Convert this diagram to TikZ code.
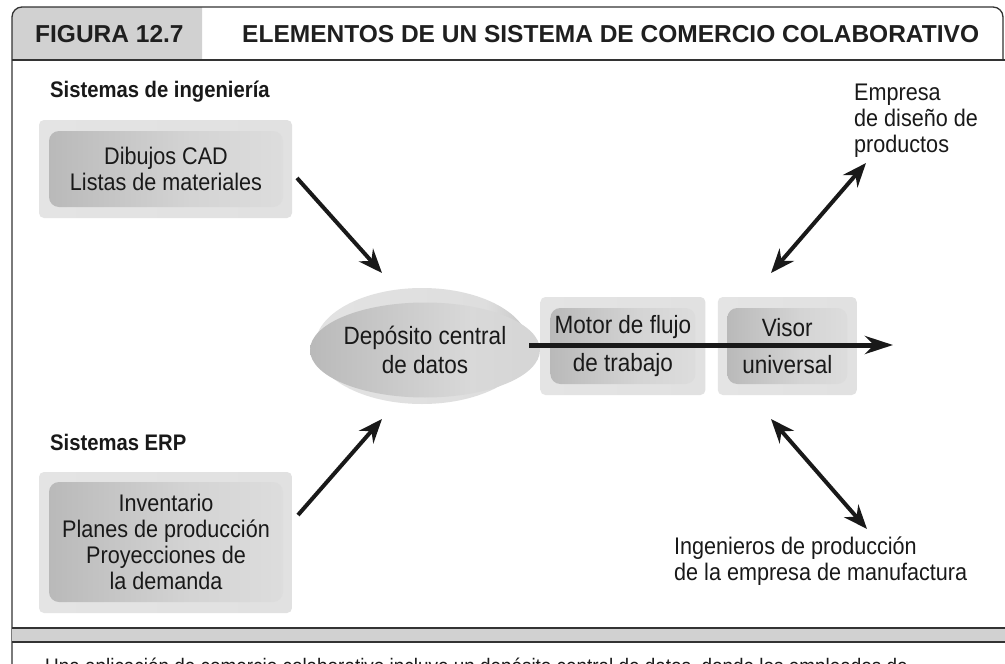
\documentclass[tikz,border=0pt]{standalone}
\usepackage{fontspec}
\setmainfont{Liberation Sans}[FakeStretch=0.9]
\newfontfamily\headfont{Liberation Sans}
\usetikzlibrary{arrows.meta,positioning,calc,shapes.geometric}

\pgfdeclarehorizontalshading{outershade}{100bp}{color(0bp)=(black!10); color(82bp)=(black!12); color(100bp)=(black!32)}
\pgfdeclarehorizontalshading{innershade}{100bp}{color(0bp)=(black!36); color(55bp)=(black!17); color(100bp)=(black!9)}
\pgfdeclarehorizontalshading{ellshade}{100bp}{color(0bp)=(black!10); color(65bp)=(black!13); color(100bp)=(black!45)}
\pgfdeclarehorizontalshading{ellinshade}{100bp}{color(0bp)=(black!36); color(60bp)=(black!15); color(100bp)=(black!19)}

\begin{document}
\begin{tikzpicture}[
  x=1pt, y=-1pt,
  >=Stealth,
  frm/.style={draw=black!80, line width=1.3pt},
  OB/.style={rectangle, rounded corners=5pt, shade, shading=outershade, inner sep=0pt},
  IB/.style={rectangle, rounded corners=10pt, shade, shading=innershade,
    inner sep=0pt, align=center, text=black!90,
    font=\fontsize{24}{26}\selectfont},
  OE/.style={ellipse, shade, shading=ellshade, inner sep=0pt},
  IE/.style={ellipse, shade, shading=ellinshade, inner sep=0pt,
    align=center, text=black!90, font=\fontsize{25}{29}\selectfont},
  sec/.style={anchor=base west, inner sep=0pt, text=black!90,
    font=\fontsize{22.5}{26}\selectfont\bfseries},
  ext/.style={anchor=base west, inner sep=0pt, align=left, text=black!90,
    font=\fontsize{24}{26}\selectfont},
  hdr/.style={anchor=base west, inner sep=0pt, text=black!88,
    font=\headfont\fontsize{24.5}{28}\selectfont\bfseries},
  arr/.style={-{Stealth[length=24pt,width=19pt,inset=8pt]}, line width=4pt, draw=black!90},
  darr/.style={{Stealth[length=24pt,width=19pt,inset=8pt]}-{Stealth[length=24pt,width=19pt,inset=8pt]},
    line width=4pt, draw=black!90},
  harr/.style={-{Stealth[length=28pt,width=18pt,inset=9pt]}, line width=5pt, draw=black!90}
]
\useasboundingbox (0,0) rectangle (1005,664);
\fill[white] (0,0) rectangle (1005,664);

% frame and header
\fill[black!18] (12,60) {[rounded corners=10pt] -- (12,7)} -- (202,7) -- (202,60) -- cycle;
\draw[frm, rounded corners=10pt] (12,664) -- (12,7) -- (1003,7) -- (1003,60);
\draw[frm] (12,60) -- (1005,60);
\fill[black!18] (12,628) rectangle (1005,642);
\draw[frm] (12,628) -- (1005,628);
\draw[frm] (12,642) -- (1005,642);

\node[hdr] (fig)   at (35,42)  {FIGURA 12.7};
\node[hdr] (title) at (242,42) {ELEMENTOS DE UN SISTEMA DE COMERCIO COLABORATIVO};

% source systems
\node[sec] (ingT) at (50,97)  {Sistemas de ingeniería};
\node[OB, minimum width=253, minimum height=98] (ingO) at (165.5,169) {};
\node[IB, minimum width=234, minimum height=76] (ing) at (166,169)
  {Dibujos CAD\\Listas de materiales};

\node[sec] (erpT) at (50,450) {Sistemas ERP};
\node[OB, minimum width=253, minimum height=141] (erpO) at (165.5,542.5) {};
\node[IB, minimum width=234, minimum height=120] (erp) at (166,542)
  {Inventario\\Planes de producción\\Proyecciones de\\la demanda};

% central chain
\node[OE, minimum width=214, minimum height=116] (depO) at (422,346) {};
\node[IE, minimum width=195, minimum height=95] (dep) at (425,350)
  {Depósito central\\de datos};

\node[OB, minimum width=165, minimum height=98, right=11pt of depO] (motorO) {};
\node[IB, minimum width=145, minimum height=76, font=\fontsize{25}{38}\selectfont]
  (motor) at (motorO) {Motor de flujo\\de trabajo};

\node[OB, minimum width=139, minimum height=98, right=12pt of motorO] (visorO) {};
\node[IB, minimum width=120, minimum height=76, font=\fontsize{25}{37}\selectfont]
  (visor) at (visorO) {Visor\\universal};

% outside parties
\node[ext] (dis) at (854,152) {Empresa\\de diseño de\\productos};
\node[ext] (ingprod) at (674,580) {Ingenieros de producción\\de la empresa de manufactura};

% arrow ends
\coordinate (a1s) at (297,178);
\coordinate (a1e) at (382,273);
\coordinate (a2s) at (298,515);
\coordinate (a2e) at (382,419);
\coordinate (a3s) at (771,273);
\coordinate (a3e) at (866,163);
\coordinate (a4s) at (771,419);
\coordinate (a4e) at (867,529);
\coordinate (outR) at (893,345);

\draw[arr] (a1s) -- (a1e);
\draw[arr] (a2s) -- (a2e);
\draw[darr] (a3s) -- (a3e);
\draw[darr] (a4s) -- (a4e);
\draw[harr] (depO.east |- outR) -- (outR);

% caption (cut by the page edge)
\node[anchor=base west, inner sep=0pt, text=black!90, font=\fontsize{21}{24}\selectfont]
  (cap) at (45,673)
  {Una aplicación de comercio colaborativo incluye un depósito central de datos, donde los empleados de};
\end{tikzpicture}
\end{document}
